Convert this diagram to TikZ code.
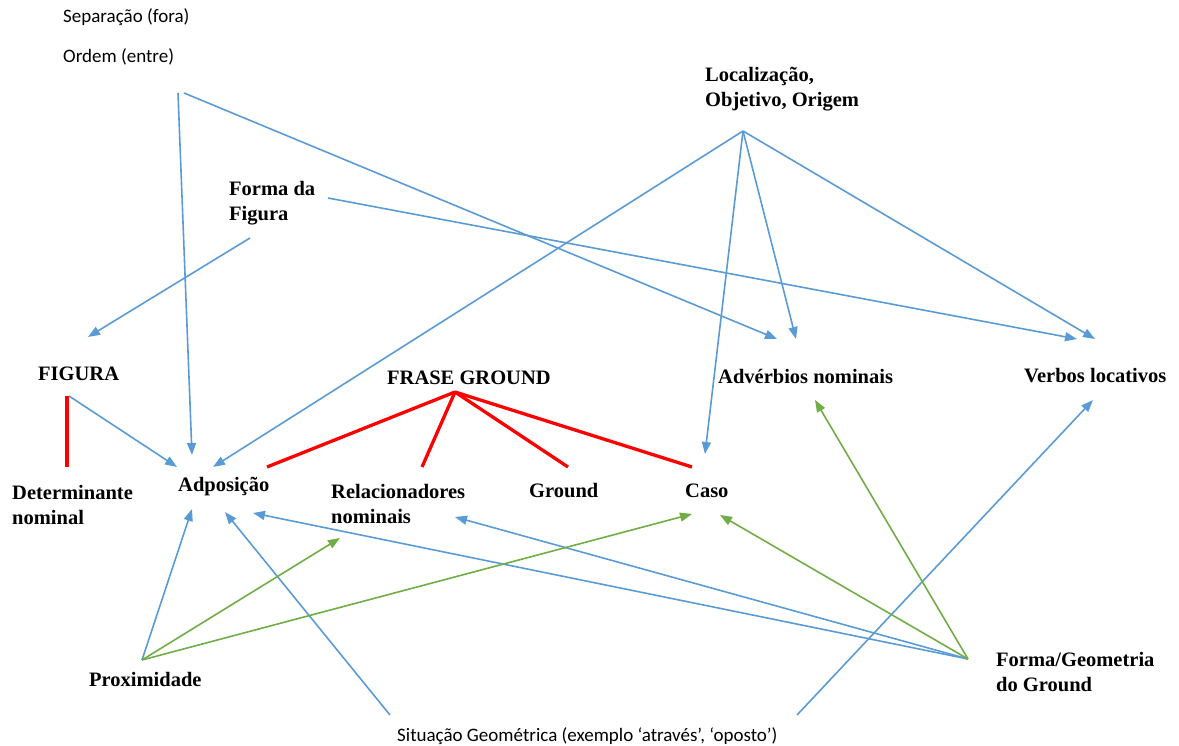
\documentclass[tikz,border=0pt]{standalone}
\usepackage{fontspec}
\setmainfont{Liberation Serif}
\newfontfamily\calib{Carlito}
\usetikzlibrary{arrows.meta}
\definecolor{azul}{HTML}{5B9BD5}
\definecolor{verde}{HTML}{70AD47}

\begin{document}
\begin{tikzpicture}[x=1pt,y=-1pt,
	rotulo/.style={font=\fontsize{20.5}{25}\selectfont\bfseries, anchor=west, align=left, inner sep=0pt},
	nota/.style={font=\calib\fontsize{19}{23}\selectfont, anchor=west, inner sep=0pt},
	seta/.style={azul, line width=1.6, -{Triangle[length=12pt,width=9pt]}},
	setav/.style={verde, line width=1.6, -{Triangle[length=12pt,width=9pt]}},
	liga/.style={red, line width=3.3}]
	\useasboundingbox (0,0) rectangle (1179,746);
	
	% textos
	\node[nota] (sep) at (63,17) {Separação (fora)};
	\node[nota] (ord) at (63,57) {Ordem (entre)};
	\node[rotulo] (loc) at (705,89.5) {Localização,\\Objetivo, Origem};
	\node[rotulo] (forfig) at (229,203.5) {Forma da\\Figura};
	\node[rotulo] (fig) at (38,374) {FIGURA};
	\node[rotulo] (frase) at (387,378) {FRASE GROUND};
	\node[rotulo] (adv) at (718,376) {Advérbios nominais};
	\node[rotulo] (verb) at (1024,376) {Verbos locativos};
	\node[rotulo] (det) at (12,504.5) {Determinante\\nominal};
	\node[rotulo] (adp) at (178,487) {Adposição};
	\node[rotulo] (rel) at (331,504) {Relacionadores\\nominais};
	\node[rotulo] (gro) at (529,491) {Ground};
	\node[rotulo] (caso) at (685,491) {Caso};
	\node[rotulo] (prox) at (89,679) {Proximidade};
	\node[rotulo] (forgeo) at (996,672) {Forma/Geometria\\do Ground};
	\node[nota] (sit) at (397,736) {Situação Geométrica (exemplo ‘através’, ‘oposto’)};
	
	% pontos de partida
	\coordinate (o1) at (178,93);
	\coordinate (o2) at (184,93);
	\coordinate (l0) at (743,131);
	\coordinate (ff1) at (328,198);
	\coordinate (ff2) at (250,238);
	\coordinate (fg0) at (69,396);
	\coordinate (fg1) at (67,396);
	\coordinate (fr0) at (455,392);
	\coordinate (p0) at (142,660);
	\coordinate (g0) at (968,659);
	\coordinate (s1) at (390,715);
	\coordinate (s2) at (797,715);
	
	% pontos de chegada
	\coordinate (figT) at (88,337);
	\coordinate (advA) at (777,339);
	\coordinate (advB) at (796,339);
	\coordinate (advC) at (815,400);
	\coordinate (verA) at (1077,339);
	\coordinate (verB) at (1095,339);
	\coordinate (verC) at (1093,400);
	\coordinate (adpA) at (192,455);
	\coordinate (adpB) at (213,467);
	\coordinate (adpC) at (177,467);
	\coordinate (adpD) at (267,467);
	\coordinate (adpE) at (192,509);
	\coordinate (adpF) at (225,512);
	\coordinate (adpG) at (253,513);
	\coordinate (detT) at (67,467);
	\coordinate (relA) at (422,467);
	\coordinate (relB) at (455,517);
	\coordinate (relC) at (340,538);
	\coordinate (groT) at (568,467);
	\coordinate (casA) at (705,454);
	\coordinate (casB) at (692,467);
	\coordinate (casC) at (692,514);
	\coordinate (casD) at (720,515);
	
	% setas azuis
	\draw[seta] (o1) -- (adpA);
	\draw[seta] (o2) -- (advA);
	\draw[seta] (l0) -- (adpB);
	\draw[seta] (l0) -- (casA);
	\draw[seta] (l0) -- (advB);
	\draw[seta] (l0) -- (verB);
	\draw[seta] (ff1) -- (verA);
	\draw[seta] (ff2) -- (figT);
	\draw[seta] (fg0) -- (adpC);
	\draw[seta] (p0) -- (adpE);
	\draw[seta] (s1) -- (adpF);
	\draw[seta] (g0) -- (adpG);
	\draw[seta] (g0) -- (relB);
	\draw[seta] (s2) -- (verC);
	
	% setas verdes
	\draw[setav] (p0) -- (relC);
	\draw[setav] (p0) -- (casC);
	\draw[setav] (g0) -- (casD);
	\draw[setav] (g0) -- (advC);
	
	% ligacoes vermelhas
	\draw[liga] (fg1) -- (detT);
	\draw[liga] (fr0) -- (adpD);
	\draw[liga] (fr0) -- (relA);
	\draw[liga] (fr0) -- (groT);
	\draw[liga] (fr0) -- (casB);
\end{tikzpicture}
\end{document}
